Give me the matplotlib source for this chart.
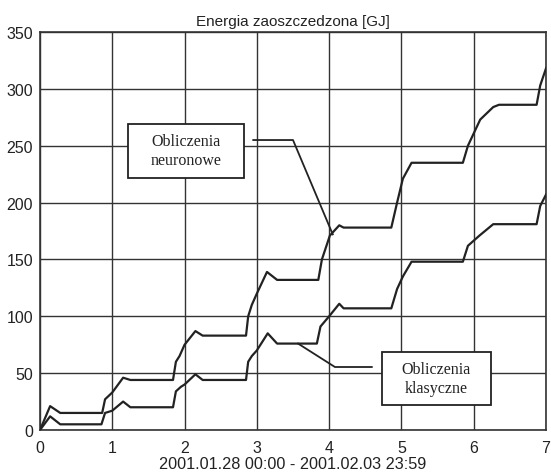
import matplotlib.pyplot as plt
from matplotlib.patches import Rectangle

# energia zaoszczedzona - przebiegi (dni od 2001.01.28 00:00)
t_neuro = [0, 0.14, 0.28, 0.86, 0.9, 0.95, 1.0, 1.15, 1.25, 1.84, 1.88, 1.93, 2.0, 2.15, 2.25,
           2.85, 2.88, 2.93, 3.0, 3.14, 3.28, 3.85, 3.9, 4.01, 4.14, 4.2, 4.86, 4.94, 5.02,
           5.14, 5.2, 5.85, 5.92, 6.09, 6.27, 6.35, 6.87, 6.92, 7.0]
e_neuro = [0, 21, 15, 15, 27, 30, 33, 46, 44, 44, 60, 65, 75, 87, 83,
           83, 100, 110, 120, 139, 132, 132, 150, 171, 180, 178, 178, 200, 221,
           235, 235, 235, 250, 273, 284, 286, 286, 303, 318]

t_klas = [0, 0.14, 0.28, 0.85, 0.9, 0.95, 1.0, 1.15, 1.25, 1.84, 1.88, 1.95, 2.0, 2.15, 2.25,
          2.85, 2.88, 2.93, 3.0, 3.15, 3.28, 3.83, 3.88, 4.0, 4.14, 4.2, 4.86, 4.94, 5.02,
          5.14, 5.85, 5.92, 6.08, 6.27, 6.87, 6.92, 7.0]
e_klas = [0, 12, 5, 5, 15, 16, 17, 25, 20, 20, 34, 38, 40, 49, 44,
          44, 60, 65, 70, 85, 76, 76, 91, 100, 111, 107, 107, 124, 135,
          148, 148, 162, 171, 181, 181, 197, 207]

# linie odnosnikow do opisow
ptr_neuro_x = [2.95, 3.5, 4.05]
ptr_neuro_y = [255, 255, 172]
ptr_klas_x = [3.57, 4.08, 4.59]
ptr_klas_y = [76, 55.4, 55.4]

fig = plt.figure(figsize=(5.51, 4.77), dpi=100)
ax = fig.add_axes([40 / 551, 1 - 431 / 477, 506 / 551, 398 / 477])

ax.plot(t_neuro, e_neuro, color='#222222', lw=1.6, zorder=3)
ax.plot(t_klas, e_klas, color='#222222', lw=1.6, zorder=3)
ax.plot(ptr_neuro_x, ptr_neuro_y, color='#222222', lw=1.3, zorder=3)
ax.plot(ptr_klas_x, ptr_klas_y, color='#222222', lw=1.3, zorder=3)

ax.set_xlim(0, 7)
ax.set_ylim(0, 350)
ax.set_xticks(range(0, 8))
ax.set_yticks(range(0, 351, 50))
ax.grid(True, color='#333333', lw=1.0)
ax.set_axisbelow(True)
ax.tick_params(length=0, labelsize=11.5, colors='#222222', pad=5)
ax.tick_params(axis='x', pad=7)
for s in ax.spines.values():
    s.set_color('#333333')
    s.set_linewidth(1.2)

for lab in ax.get_xticklabels() + ax.get_yticklabels():
    lab.set_fontfamily('Liberation Sans')

ax.set_title('Energia zaoszczedzona [GJ]', fontsize=11, family='Liberation Sans',
             color='#222222', pad=5)
ax.set_xlabel('2001.01.28 00:00 - 2001.02.03 23:59', fontsize=11.7,
              family='Liberation Sans', color='#222222', labelpad=1)

# ramki z opisami krzywych
for x0, x1, y0, y1, txt in [(1.22, 2.82, 222, 269, 'Obliczenia\nneuronowe'),
                            (4.73, 6.24, 22, 68.6, 'Obliczenia\nklasyczne')]:
    ax.add_patch(Rectangle((x0, y0), x1 - x0, y1 - y0, fc='white', ec='#222222',
                           lw=1.3, zorder=4))
    ax.text((x0 + x1) / 2, (y0 + y1) / 2, txt, ha='center', va='center', fontsize=11.5,
            family='Liberation Serif', color='#222222', zorder=5, linespacing=1.25)

fig.savefig('out.png', dpi=100)
